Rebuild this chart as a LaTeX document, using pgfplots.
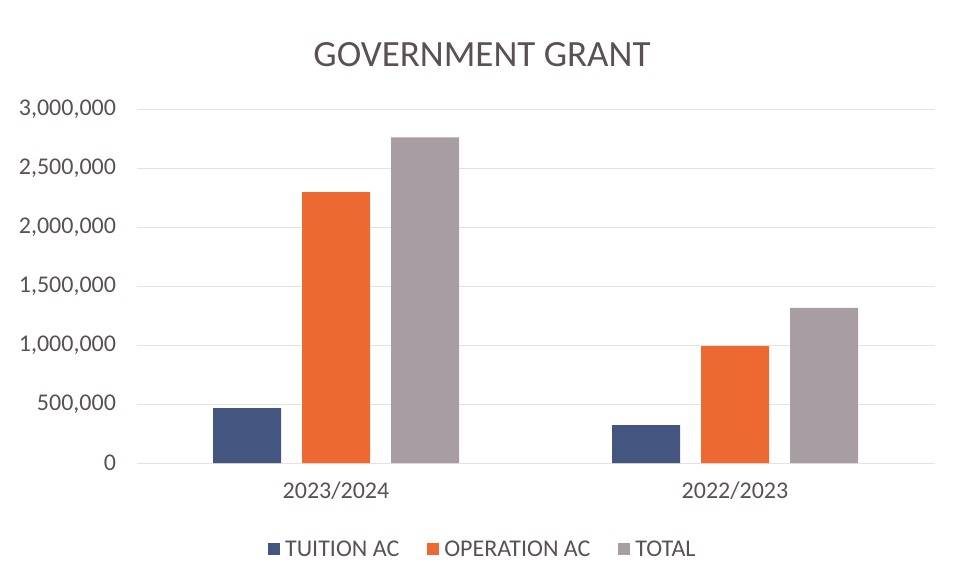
\documentclass[border=0pt]{standalone}
\usepackage{fontspec}
\setmainfont{Carlito}
\usepackage{pgfplots}
\pgfplotsset{compat=1.18}
\definecolor{tuition}{HTML}{44557F}
\definecolor{operation}{HTML}{EC6A32}
\definecolor{total}{HTML}{A89DA3}
\definecolor{txt}{HTML}{5A5055}
\definecolor{gridc}{HTML}{E4E2E4}
\begin{document}
\begin{tikzpicture}
\useasboundingbox (0,0) rectangle (958pt,582pt);
\node[font=\fontsize{37}{42}\selectfont, text=txt] at (482pt,527pt) {GOVERNMENT GRANT};
\begin{axis}[
  at={(136.5pt,119pt)}, anchor=south west,
  scale only axis, width=798pt, height=354pt,
  ybar=21pt, bar width=68pt,
  xmin=-0.5, xmax=1.5, ymin=0, ymax=3000000,
  xtick={0,1}, xticklabels={2023/2024,2022/2023},
  ytick={0,500000,1000000,1500000,2000000,2500000,3000000},
  scaled y ticks=false,
  /pgf/number format/assume math mode=true,
  yticklabel style={/pgf/number format/fixed, /pgf/number format/1000 sep={,}, xshift=-17pt},
  ticklabel style={font=\fontsize{24}{28}\selectfont, text=txt},
  xticklabel style={yshift=-15pt},
  axis line style={draw=none},
  major tick length=0pt,
  ymajorgrids, grid style={gridc, line width=0.8pt},
  legend style={at={(0.434,-0.243)}, anchor=center, legend columns=3, draw=none,
    font=\fontsize{24}{28}\selectfont, text=txt,
    /tikz/every odd column/.append style={column sep=3pt},
    /tikz/every even column/.append style={column sep=26pt}},
  legend image code/.code={\fill[#1] (0pt,-6pt) rectangle (12pt,6pt);},
]
\addplot[fill=tuition, draw=none] coordinates {(0,465000) (1,320000)};
\addplot[fill=operation, draw=none] coordinates {(0,2295000) (1,990000)};
\addplot[fill=total, draw=none] coordinates {(0,2760000) (1,1315000)};
\legend{TUITION AC, OPERATION AC, TOTAL}
\end{axis}
\end{tikzpicture}
\end{document}
